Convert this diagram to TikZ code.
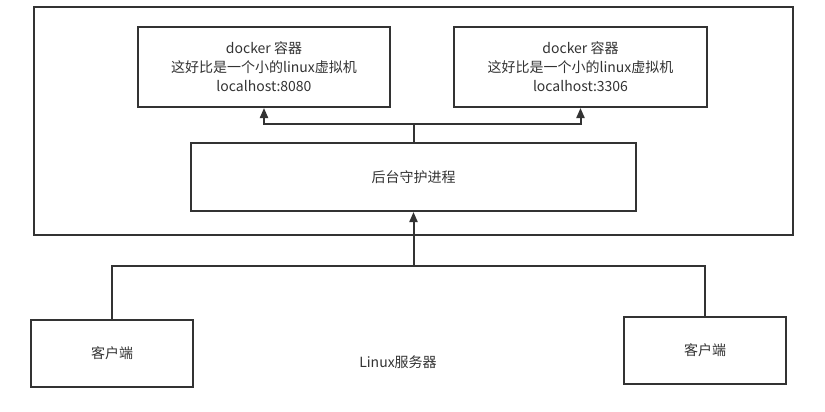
\documentclass[tikz,border=0pt]{standalone}
\usepackage{fontspec}
\setmainfont{Noto Sans CJK SC}
\usetikzlibrary{arrows.meta}
\definecolor{ln}{HTML}{333333}
\definecolor{tx}{HTML}{333333}
\begin{document}
\begin{tikzpicture}[x=1pt,y=-1pt,
  box/.style={draw=ln,line width=2pt,fill=white,inner sep=0pt,align=center,text=tx,font=\fontsize{14}{19}\selectfont},
  conn/.style={draw=ln,line width=2pt},
  arr/.style={conn,-{Triangle[length=10pt,width=8pt]}}]
\useasboundingbox (0,0) rectangle (825,412);
\fill[white] (0,0) rectangle (825,412);
\draw[conn] (34,7) rectangle (793,235);
\node[box,minimum width=252pt,minimum height=80pt] (d1) at (264,67) {docker 容器\\这好比是一个小的linux虚拟机\\localhost:8080};
\node[box,minimum width=253pt,minimum height=80pt] (d2) at (580.5,67) {docker 容器\\这好比是一个小的linux虚拟机\\localhost:3306};
\node[box,minimum width=445pt,minimum height=68pt] (dm) at (413.5,177) {后台守护进程};
\node[box,minimum width=162pt,minimum height=67pt] (c1) at (112,353.5) {客户端};
\node[box,minimum width=162pt,minimum height=67pt] (c2) at (705,350.5) {客户端};
\node[text=tx,font=\fontsize{14}{16}\selectfont] (lbl) at (398,362) {Linux服务器};
\coordinate (j) at (413.5,124);
\coordinate (k) at (413.5,266);
\draw[conn] (dm.north) -- (j);
\draw[arr] (j) -| (d1.south);
\draw[arr] (j) -| (d2.south);
\draw[conn] (c1.north) |- (k);
\draw[conn] (c2.north) |- (k);
\draw[arr] (k) -- (dm.south);
\end{tikzpicture}
\end{document}
